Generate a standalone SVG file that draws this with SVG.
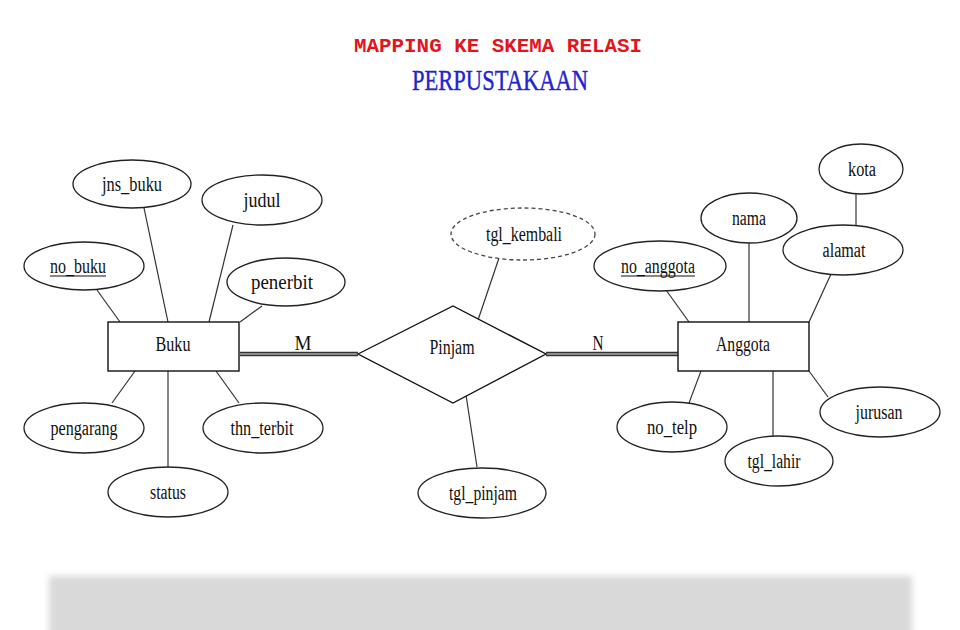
<svg xmlns="http://www.w3.org/2000/svg" width="960" height="630" viewBox="0 0 960 630">
<style>
.e{fill:#fff;stroke:#222;stroke-width:1.3}
.d{fill:#fff;stroke:#444;stroke-width:1.3;stroke-dasharray:4 3}
.r{fill:#fff;stroke:#111;stroke-width:1.4}
.t{font-family:"Liberation Serif","Times New Roman",serif;font-size:20.5px;fill:#111;text-anchor:middle}
.c{stroke:#333;stroke-width:1.2;fill:none}
.u{stroke:#111;stroke-width:1.2}
.dbo{stroke:#333;stroke-width:4.5}
.dbi{stroke:#aaa;stroke-width:1.5}
</style>
<defs>
<filter id="blur" x="-5%" y="-20%" width="110%" height="140%"><feGaussianBlur stdDeviation="3"/></filter>
</defs>
<rect width="960" height="630" fill="#fff"/>
<rect x="49" y="576" width="863" height="70" fill="#d9d9d9" filter="url(#blur)"/>
<g id="title">
<text x="498" y="52" font-family="'Liberation Mono','Courier New',monospace" font-size="20" font-weight="bold" fill="#e3141c" text-anchor="middle" textLength="288" lengthAdjust="spacingAndGlyphs">MAPPING KE SKEMA RELASI</text>
<text x="500" y="90" font-family="'Liberation Serif','Times New Roman',serif" font-size="29" fill="#2424cc" stroke="#2424cc" stroke-width="0.4" text-anchor="middle" textLength="176" lengthAdjust="spacingAndGlyphs">PERPUSTAKAAN</text>
</g>
<g id="connectors">
<line class="c" x1="97" y1="290" x2="120" y2="322"/>
<line class="c" x1="144" y1="208" x2="168" y2="322"/>
<line class="c" x1="233" y1="225" x2="209" y2="322"/>
<line class="c" x1="262" y1="306" x2="240" y2="322"/>
<line class="c" x1="135" y1="371" x2="112" y2="403"/>
<line class="c" x1="168" y1="371" x2="168" y2="467"/>
<line class="c" x1="216" y1="371" x2="239" y2="403"/>
<line class="c" x1="499" y1="258" x2="477" y2="323"/>
<line class="c" x1="466" y1="395" x2="477" y2="467"/>
<line class="c" x1="856" y1="194" x2="856" y2="225"/>
<line class="c" x1="749" y1="243" x2="749" y2="322"/>
<line class="c" x1="831" y1="274" x2="809" y2="322"/>
<line class="c" x1="666" y1="290" x2="689" y2="322"/>
<line class="c" x1="701" y1="371" x2="689" y2="403"/>
<line class="c" x1="773" y1="371" x2="773" y2="436"/>
<line class="c" x1="809" y1="371" x2="828" y2="397"/>
<line class="dbo" x1="240" y1="354" x2="358" y2="354"/>
<line class="dbi" x1="240" y1="354" x2="358" y2="354"/>
<line class="dbo" x1="546" y1="354" x2="678" y2="354"/>
<line class="dbi" x1="546" y1="354" x2="678" y2="354"/>
<text class="t" x="303" y="350" textLength="17" lengthAdjust="spacingAndGlyphs">M</text>
<text class="t" x="598" y="350" textLength="11" lengthAdjust="spacingAndGlyphs">N</text>
</g>
<g id="buku"><rect class="r" x="108" y="322" width="131" height="49"/><text class="t" x="173" y="351" textLength="35" lengthAdjust="spacingAndGlyphs">Buku</text></g>
<g id="jns_buku"><ellipse class="e" cx="132" cy="184" rx="59" ry="24"/><text class="t" x="132" y="191" textLength="60" lengthAdjust="spacingAndGlyphs">jns_buku</text></g>
<g id="judul"><ellipse class="e" cx="262" cy="200" rx="60" ry="25"/><text class="t" x="262" y="207" textLength="37" lengthAdjust="spacingAndGlyphs">judul</text></g>
<g id="no_buku"><ellipse class="e" cx="84" cy="266" rx="60" ry="24"/><text class="t" x="78" y="273" textLength="56" lengthAdjust="spacingAndGlyphs">no_buku</text><line class="u" x1="50" y1="276" x2="106" y2="276"/></g>
<g id="penerbit"><ellipse class="e" cx="286" cy="282" rx="59" ry="24"/><text class="t" x="282" y="289" textLength="62" lengthAdjust="spacingAndGlyphs">penerbit</text></g>
<g id="pengarang"><ellipse class="e" cx="84" cy="428" rx="60" ry="25"/><text class="t" x="84" y="435" textLength="67" lengthAdjust="spacingAndGlyphs">pengarang</text></g>
<g id="thn_terbit"><ellipse class="e" cx="263" cy="428" rx="60" ry="25"/><text class="t" x="262" y="435" textLength="63" lengthAdjust="spacingAndGlyphs">thn_terbit</text></g>
<g id="status"><ellipse class="e" cx="168" cy="492" rx="60" ry="25"/><text class="t" x="168" y="499" textLength="36" lengthAdjust="spacingAndGlyphs">status</text></g>
<g id="pinjam"><polygon class="r" points="358,354 453,306 546,354 453,403"/><text class="t" x="452" y="354" textLength="45" lengthAdjust="spacingAndGlyphs">Pinjam</text></g>
<g id="tgl_kembali"><ellipse class="d" cx="523" cy="234" rx="72" ry="26"/><text class="t" x="524" y="241" textLength="76" lengthAdjust="spacingAndGlyphs">tgl_kembali</text></g>
<g id="tgl_pinjam"><ellipse class="e" cx="482" cy="493" rx="64" ry="25"/><text class="t" x="483" y="500" textLength="68" lengthAdjust="spacingAndGlyphs">tgl_pinjam</text></g>
<g id="anggota"><rect class="r" x="678" y="322" width="131" height="49"/><text class="t" x="743" y="351" textLength="54" lengthAdjust="spacingAndGlyphs">Anggota</text></g>
<g id="kota"><ellipse class="e" cx="861" cy="169" rx="42" ry="25"/><text class="t" x="862" y="176" textLength="28" lengthAdjust="spacingAndGlyphs">kota</text></g>
<g id="nama"><ellipse class="e" cx="749" cy="218" rx="48" ry="25"/><text class="t" x="749" y="225" textLength="34" lengthAdjust="spacingAndGlyphs">nama</text></g>
<g id="alamat"><ellipse class="e" cx="843" cy="250" rx="60" ry="25"/><text class="t" x="844" y="257" textLength="43" lengthAdjust="spacingAndGlyphs">alamat</text></g>
<g id="no_anggota"><ellipse class="e" cx="660" cy="266" rx="66" ry="25"/><text class="t" x="658" y="273" textLength="74" lengthAdjust="spacingAndGlyphs">no_anggota</text><line class="u" x1="621" y1="276" x2="695" y2="276"/></g>
<g id="no_telp"><ellipse class="e" cx="672" cy="427" rx="55" ry="25"/><text class="t" x="672" y="434" textLength="50" lengthAdjust="spacingAndGlyphs">no_telp</text></g>
<g id="tgl_lahir"><ellipse class="e" cx="779" cy="461" rx="54" ry="25"/><text class="t" x="774" y="468" textLength="53" lengthAdjust="spacingAndGlyphs">tgl_lahir</text></g>
<g id="jurusan"><ellipse class="e" cx="880" cy="412" rx="60" ry="25"/><text class="t" x="879" y="419" textLength="47" lengthAdjust="spacingAndGlyphs">jurusan</text></g>
</svg>
